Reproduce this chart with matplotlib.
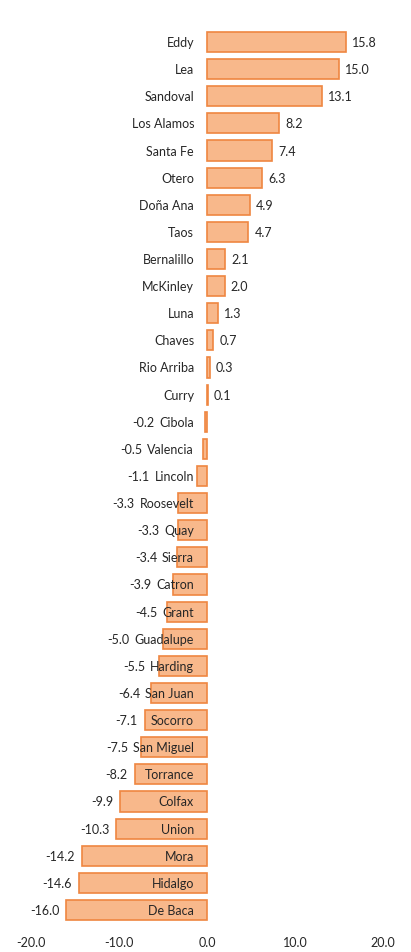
import matplotlib
matplotlib.use("Agg")
import matplotlib.pyplot as plt
import numpy as np

counties = ["Eddy", "Lea", "Sandoval", "Los Alamos", "Santa Fe", "Otero",
            "Doña Ana", "Taos", "Bernalillo", "McKinley", "Luna", "Chaves",
            "Rio Arriba", "Curry", "Cibola", "Valencia", "Lincoln", "Roosevelt",
            "Quay", "Sierra", "Catron", "Grant", "Guadalupe", "Harding",
            "San Juan", "Socorro", "San Miguel", "Torrance", "Colfax", "Union",
            "Mora", "Hidalgo", "De Baca"]
change = [15.8, 15.0, 13.1, 8.2, 7.4, 6.3,
          4.9, 4.7, 2.1, 2.0, 1.3, 0.7,
          0.3, 0.1, -0.2, -0.5, -1.1, -3.3,
          -3.3, -3.4, -3.9, -4.5, -5.0, -5.5,
          -6.4, -7.1, -7.5, -8.2, -9.9, -10.3,
          -14.2, -14.6, -16.0]
xticks = [-20, -10, 0, 10, 20]

plt.rcParams['font.family'] = ['Lato', 'DejaVu Sans']
fs = 9
txtcol = "#262626"

fig = plt.figure(figsize=(4.11, 9.53), dpi=100)
n = len(counties)
step = (911 - 43) / (n - 1)
top_px = 43 - step / 2
bot_px = top_px + n * step
ax = fig.add_axes([31 / 411, 1 - bot_px / 953, (383 - 31) / 411, (bot_px - top_px) / 953])

y = np.arange(n)
ax.barh(y, change, height=0.74, color="#F8B88B", edgecolor="#EF8641", linewidth=1.2)
ax.set_xlim(-20, 20)
ax.set_ylim(n - 0.5, -0.5)
ax.set_xticks(xticks)
ax.set_xticklabels(["%.1f" % t for t in xticks], fontsize=fs, color=txtcol)
ax.set_yticks([])
ax.tick_params(axis="x", length=0, pad=9)
for s in ax.spines.values():
    s.set_visible(False)

px = 0.72  # points per pixel at 100 dpi
cat_texts = []
for i, name in enumerate(counties):
    t = ax.annotate(name, (0, i), xytext=(-13 * px, 0), textcoords="offset points",
                    ha="right", va="center", fontsize=fs, color=txtcol)
    cat_texts.append(t)

fig.canvas.draw()
r = fig.canvas.get_renderer()
inv = ax.transData.inverted()
for i, v in enumerate(change):
    lab = "%.1f" % v
    if v >= 0:
        ax.annotate(lab, (v, i), xytext=(6 * px, 0), textcoords="offset points",
                    ha="left", va="center", fontsize=fs, color=txtcol)
    else:
        bb = cat_texts[i].get_window_extent(r)
        end_disp = ax.transData.transform((v, i))[0] - 7
        xr = min(end_disp, bb.x0 - 5)
        xd = inv.transform((xr, 0))[0]
        ax.annotate(lab, (xd, i), ha="right", va="center", fontsize=fs, color=txtcol)

fig.savefig("out.png", dpi=100)
